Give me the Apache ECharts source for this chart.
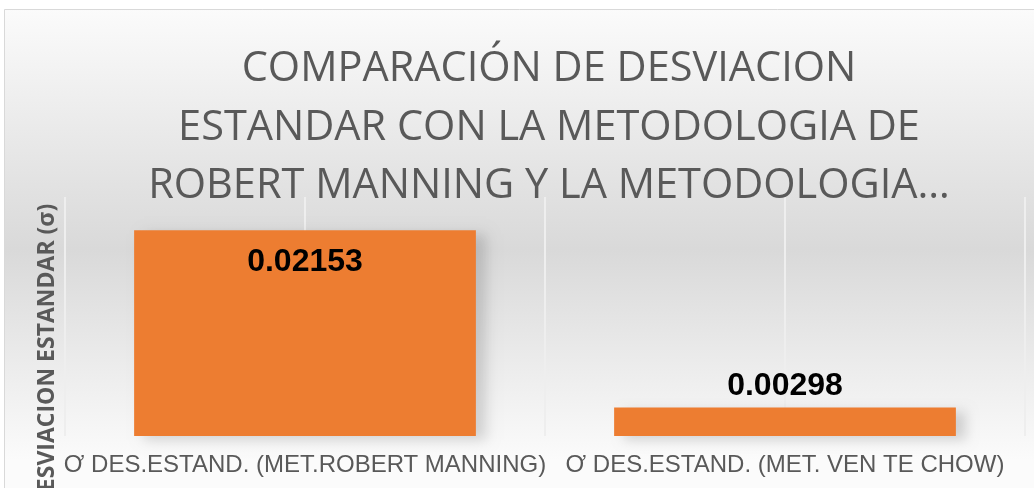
<!DOCTYPE html>
<html>
<head>
<meta charset="utf-8">
<script src="https://cdn.jsdelivr.net/npm/echarts@6/dist/echarts.min.js"></script>
<style>
  html, body { margin: 0; padding: 0; background: #fff; }
  #chart { width: 1034px; height: 488px; }
</style>
</head>
<body>
<div id="chart"></div>
<script>
let categories = ['Ơ DES.ESTAND. (MET.ROBERT MANNING)', 'Ơ DES.ESTAND. (MET. VEN TE CHOW)'];
let values = [0.02153, 0.00298];
let labelPos = ['insideTop', 'top'];

let chart = echarts.init(document.getElementById('chart'));

let bars = values.map(function (v, i) {
  return {
    value: v,
    label: { position: labelPos[i], distance: i === 0 ? 16 : 5 }
  };
});

option = {
  backgroundColor: '#fff',
  animation: false,
  title: {
    text: 'COMPARACIÓN DE DESVIACION\nESTANDAR CON LA METODOLOGIA DE\nROBERT MANNING Y LA METODOLOGIA…',
    left: 544,
    top: 35,
    textAlign: 'center',
    textStyle: {
      fontFamily: 'Open Sans',
      fontWeight: 'normal',
      fontSize: 41.5,
      lineHeight: 58.5,
      color: '#595959'
    }
  },
  graphic: [
    {
      type: 'rect',
      z: -10,
      silent: true,
      shape: { x: 4.5, y: 9.5, width: 1100, height: 600 },
      style: {
        stroke: '#d9d9d9',
        lineWidth: 1,
        fill: {
          type: 'linear', x: 0, y: 0, x2: 0, y2: 1, global: false,
          colorStops: [
            { offset: 0, color: '#fbfbfb' },
            { offset: 0.4, color: '#d9d9d9' },
            { offset: 0.75, color: '#fbfbfb' },
            { offset: 1, color: '#fbfbfb' }
          ]
        }
      }
    },
    {
      type: 'text',
      x: 47,
      y: 356,
      rotation: Math.PI / 2,
      style: {
        text: 'DESVIACION ESTANDAR (σ)',
        fontFamily: 'Open Sans',
        fontWeight: 'bold',
        fontSize: 23,
        fill: '#595959',
        textAlign: 'center',
        textVerticalAlign: 'middle'
      }
    }
  ],
  grid: { left: 65, right: 9, top: 197, bottom: 52 },
  xAxis: [
    {
      type: 'category',
      data: categories,
      axisLine: { show: false },
      axisTick: { show: false },
      splitLine: { show: false },
      axisLabel: {
        interval: 0,
        margin: 17,
        fontFamily: 'Liberation Sans',
        fontSize: 24,
        color: '#595959'
      }
    },
    {
      type: 'value',
      min: 0,
      max: 4,
      interval: 1,
      position: 'bottom',
      axisLine: { show: false },
      axisTick: { show: false },
      axisLabel: { show: false },
      splitLine: { show: true, lineStyle: { color: '#eeeeee', width: 2 } }
    }
  ],
  yAxis: {
    type: 'value',
    min: 0,
    max: 0.025,
    show: false,
    splitLine: { show: false }
  },
  series: [
    {
      type: 'bar',
      xAxisIndex: 0,
      barWidth: '71.2%',
      data: bars,
      itemStyle: {
        color: '#ed7d31',
        shadowColor: 'rgba(0,0,0,0.15)',
        shadowBlur: 12,
        shadowOffsetX: 10,
        shadowOffsetY: 4
      },
      label: {
        show: true,
        fontFamily: 'Liberation Sans',
        fontWeight: 'bold',
        fontSize: 32,
        color: '#000',
        formatter: function (p) { return p.value.toFixed(5); }
      }
    }
  ]
};

chart.setOption(option);
</script>
</body>
</html>
